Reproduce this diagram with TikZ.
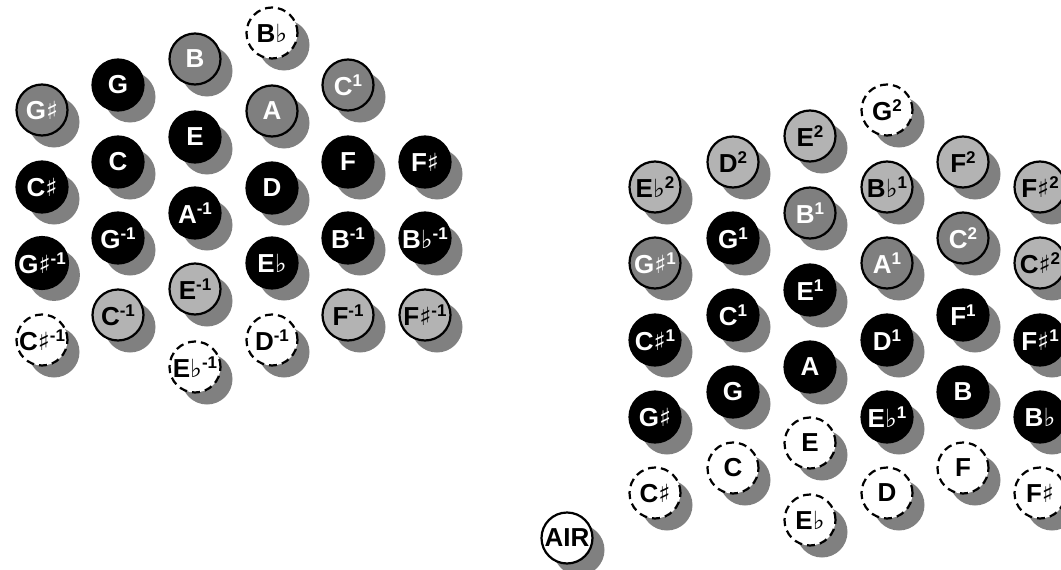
\documentclass[tikz,border=0pt]{standalone}
\usepackage{fontspec}
\setmainfont{Liberation Sans}
\newfontfamily\symfont{DejaVu Sans}
\usetikzlibrary{shadows}
\definecolor{shadowgray}{HTML}{808080}
\definecolor{midgray}{HTML}{7F7F7F}
\definecolor{lightgray}{HTML}{B3B3B3}
\newcommand\sh{{\symfont\mdseries\fontsize{25}{25}\selectfont ♯}}
\newcommand\fl{{\symfont\mdseries\fontsize{25}{25}\selectfont ♭}}
\newcommand\su[1]{\raisebox{0.36em}{\fontsize{17}{17}\selectfont #1}}
\tikzset{
  key/.style={circle, minimum size=51pt, inner sep=0pt, line width=2.2pt,
    font=\fontsize{26}{26}\selectfont\bfseries,
    drop shadow={shadow xshift=12pt, shadow yshift=-12pt, fill=shadowgray, opacity=1}},
  blk/.style={key, fill=black, draw=black, text=white},
  mid/.style={key, fill=midgray, draw=black, text=white},
  lt/.style={key, fill=lightgray, draw=black, text=black},
  dsh/.style={key, fill=white, draw=black, dash pattern=on 8pt off 5pt, text=black},
  air/.style={key, fill=white, draw=black, text=black}
}
\begin{document}
\begin{tikzpicture}[x=1pt,y=-1pt]
\useasboundingbox (0,0) rectangle (1061,570);
% left section
\node[mid] (LGs) at (42,110) {G\sh};
\node[blk] (LCs) at (42,187) {C\sh};
\node[blk] (LGsm) at (42,263) {G\sh\su{-1}};
\node[dsh] (LCsm) at (42,340) {C\sh\su{-1}};
\node[blk] (LG) at (118,85) {G};
\node[blk] (LC) at (118,162) {C};
\node[blk] (LGm) at (118,238) {G\su{-1}};
\node[lt] (LCm) at (118,315) {C\su{-1}};
\node[mid] (LB) at (195,59) {B};
\node[blk] (LE) at (195,137) {E};
\node[blk] (LAm) at (195,213) {A\su{-1}};
\node[lt] (LEm) at (195,289) {E\su{-1}};
\node[dsh] (LEbm) at (195,367) {E\fl\su{-1}};
\node[dsh] (LBb) at (272,33) {B\fl};
\node[mid] (LA) at (272,111) {A};
\node[blk] (LD) at (272,188) {D};
\node[blk] (LEb) at (272,263) {E\fl};
\node[dsh] (LDm) at (272,340) {D\su{-1}};
\node[mid] (LCo) at (348,85) {C\su{1}};
\node[blk] (LF) at (348,162) {F};
\node[blk] (LBm) at (348,238) {B\su{-1}};
\node[lt] (LFm) at (348,315) {F\su{-1}};
\node[blk] (LFs) at (425,162) {F\sh};
\node[blk] (LBbm) at (425,238) {B\fl\su{-1}};
\node[lt] (LFsm) at (425,315) {F\sh\su{-1}};
% right section
\node[lt] (REbt) at (655,187) {E\fl\su{2}};
\node[mid] (RGso) at (655,263) {G\sh\su{1}};
\node[blk] (RCso) at (655,340) {C\sh\su{1}};
\node[blk] (RGs) at (655,417) {G\sh};
\node[dsh] (RCs) at (655,493) {C\sh};
\node[lt] (RDt) at (733,162) {D\su{2}};
\node[blk] (RGo) at (733,238) {G\su{1}};
\node[blk] (RCo) at (733,315) {C\su{1}};
\node[blk] (RG) at (733,392) {G};
\node[dsh] (RC) at (733,468) {C};
\node[lt] (REt) at (810,136) {E\su{2}};
\node[mid] (RBo) at (810,213) {B\su{1}};
\node[blk] (REo) at (810,290) {E\su{1}};
\node[blk] (RA) at (810,367) {A};
\node[dsh] (RE) at (810,443) {E};
\node[dsh] (REb) at (810,520) {E\fl};
\node[dsh] (RGt) at (887,110) {G\su{2}};
\node[lt] (RBbo) at (887,187) {B\fl\su{1}};
\node[mid] (RAo) at (887,263) {A\su{1}};
\node[blk] (RDo) at (887,340) {D\su{1}};
\node[blk] (REbo) at (887,417) {E\fl\su{1}};
\node[dsh] (RD) at (887,493) {D};
\node[lt] (RFt) at (963,162) {F\su{2}};
\node[mid] (RCt) at (963,238) {C\su{2}};
\node[blk] (RFo) at (963,315) {F\su{1}};
\node[blk] (RB) at (963,392) {B};
\node[dsh] (RF) at (963,468) {F};
\node[lt] (RFst) at (1040,187) {F\sh\su{2}};
\node[lt] (RCst) at (1040,263) {C\sh\su{2}};
\node[blk] (RFso) at (1040,340) {F\sh\su{1}};
\node[blk] (RBb) at (1040,417) {B\fl};
\node[dsh] (RFs) at (1040,493) {F\sh};
\node[air] (AIR) at (567,538) {AIR};
\end{tikzpicture}
\end{document}
